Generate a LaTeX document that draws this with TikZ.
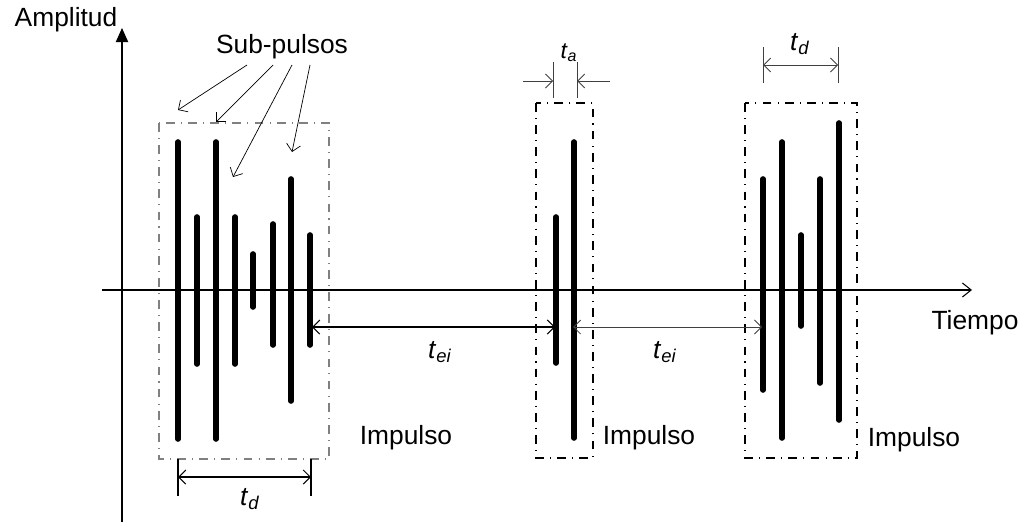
\documentclass[tikz,border=0pt]{standalone}
\usepackage{fontspec}
\setmainfont{Liberation Sans}
\usetikzlibrary{arrows.meta}

\tikzset{
  eje/.style={line width=0.6pt},
  pulso/.style={line width=3.2pt, line cap=round},
  marco/.style={line width=0.7pt, dash pattern=on 5pt off 3.5pt on 0.6pt off 3.5pt},
  cota/.style={line width=0.5pt, black!75},
  flecha/.style={-{Straight Barb[length=4pt,width=8pt]}},
  dflecha/.style={{Straight Barb[length=4pt,width=8pt]}-{Straight Barb[length=4pt,width=8pt]}},
  texto/.style={font=\fontsize{15}{18}\selectfont, inner sep=0pt},
}
\newcommand{\tsub}[1]{\textit{t}\textsubscript{\textit{#1}}}

\begin{document}
\begin{tikzpicture}[x=0.02cm, y=-0.02cm]

        \useasboundingbox (0,0) rectangle (1026,531);

        % Ejes
        \coordinate (Y0) at (122,522);
        \coordinate (Y1) at (122,28);
        \coordinate (X0) at (102,290);
        \coordinate (X1) at (972,290);
        \draw[eje, -{Triangle[length=8pt,width=7pt]}] (Y0) -- (Y1);
        \draw[eje, -{Straight Barb[length=5pt,width=8pt]}] (X0) -- (X1);
        \node[texto] (amp) at (66,20) {Amplitud};
        \node[texto] (tiempo) at (975,323) {Tiempo};

        % Marcos de los impulsos
        \draw[marco, gray] (159,123) rectangle (329,459);
        \draw[marco] (536,103) rectangle (593,458);
        \draw[marco] (745,103) rectangle (857,458);

        % Sub-pulsos del primer impulso
        \foreach \x/\a/\b in {178/142/439, 197/217/364, 216/142/439, 235/217/364,
                              253/254/307, 273/224/345, 291/179/401, 310/235/345}
          \draw[pulso] (\x,\a) -- (\x,\b);

        % Segundo impulso
        \foreach \x/\a/\b in {556/217/363, 574/142/438}
          \draw[pulso] (\x,\a) -- (\x,\b);

        % Tercer impulso
        \foreach \x/\a/\b in {763/179/390, 782/142/438, 801/235/326, 820/179/383, 839/123/420}
          \draw[pulso] (\x,\a) -- (\x,\b);

        % Etiqueta de los sub-pulsos
        \node[texto] (sub) at (282,47) {Sub-pulsos};
        \coordinate (a1) at (247,65);
        \coordinate (a2) at (273,65);
        \coordinate (a3) at (292,65);
        \coordinate (a4) at (310,65);
        \coordinate (s1) at (178,110);
        \coordinate (s2) at (216,122);
        \coordinate (s3) at (233,177);
        \coordinate (s4) at (292,152);
        \draw[flecha] (a1) -- (s1);
        \draw[flecha] (a2) -- (s2);
        \draw[flecha] (a3) -- (s3);
        \draw[flecha] (a4) -- (s4);

        % Cota t_a
        \coordinate (ta1) at (553,62);
        \coordinate (ta2) at (577,62);
        \coordinate (ta3) at (553,98);
        \coordinate (ta4) at (577,98);
        \coordinate (ta5) at (523,81);
        \coordinate (ta6) at (610,81);
        \draw[cota] (ta1) -- (ta3);
        \draw[cota] (ta2) -- (ta4);
        \draw[cota, flecha] (ta5) -- (553,81);
        \draw[cota, flecha] (ta6) -- (577,81);
        \node[texto, font=\fontsize{13}{15}\selectfont] (ta) at (569,53) {\tsub{a}};

        % Cota t_d superior
        \coordinate (td1) at (763,47);
        \coordinate (td2) at (838,47);
        \draw[cota] (td1) -- (763,83);
        \draw[cota] (td2) -- (838,83);
        \draw[cota, dflecha] (763,65) -- (838,65);
        \node[texto] (tda) at (800,44) {\tsub{d}};

        % Cota t_d inferior
        \coordinate (tb1) at (178,459);
        \coordinate (tb2) at (311,459);
        \draw[eje] (tb1) -- (178,496);
        \draw[eje] (tb2) -- (311,496);
        \draw[eje, dflecha] (178,477) -- (311,477);
        \node[texto] (tdb) at (250,499) {\tsub{d}};

        % Tiempos entre impulsos
        \coordinate (e1) at (312,327);
        \coordinate (e2) at (555,327);
        \coordinate (e3) at (573,327);
        \coordinate (e4) at (762,327);
        \draw[eje, dflecha] (e1) -- (e2);
        \draw[cota, dflecha] (e3) -- (e4);
        \node[texto] (tei1) at (440,352) {\tsub{ei}};
        \node[texto] (tei2) at (665,352) {\tsub{ei}};

        % Nombres de los impulsos
        \node[texto] (imp1) at (406,438) {Impulso};
        \node[texto] (imp2) at (649,438) {Impulso};
        \node[texto] (imp3) at (914,440) {Impulso};

    \end{tikzpicture}
\end{document}
